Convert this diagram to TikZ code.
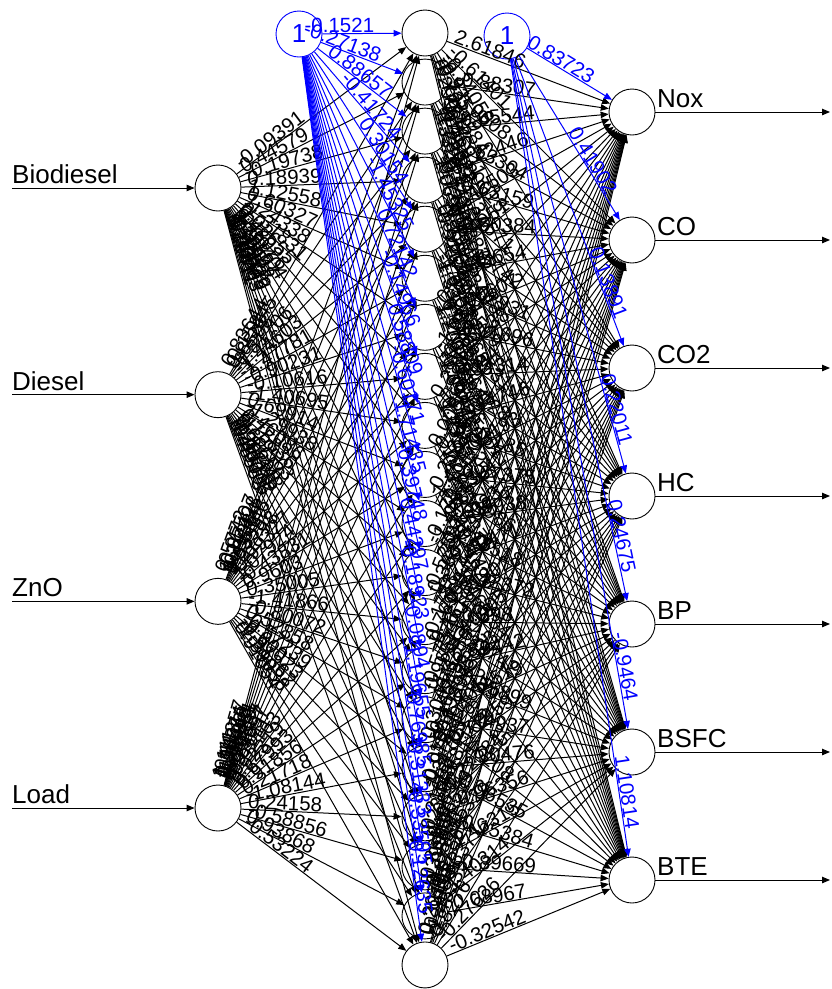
\documentclass[tikz,border=0pt]{standalone}
\usepackage{fontspec}
\setmainfont{Liberation Sans}
\usetikzlibrary{arrows.meta}

\newcommand\setweight[2]{\expandafter\def\csname wt@#1\endcsname{#2}}
\newcommand\pickweight[1]{%
  \ifcsname wt@#1\endcsname
    \edef\wt{\csname wt@#1\endcsname}%
  \else
    \pgfmathsetmacro\wraw{1.5*rand}%
    \edef\wt{\fpeval{round(\wraw,5)}}%
  \fi}
% weights readable in the plot
\setweight{in-1-1}{-0.09391}
\setweight{in-1-2}{0.44579}
\setweight{in-1-3}{-0.19738}
\setweight{in-1-4}{0.18939}
\setweight{in-1-5}{1.12558}
\setweight{in-1-6}{0.60327}
\setweight{in-4-15}{0.21718}
\setweight{in-4-16}{-1.08144}
\setweight{in-4-17}{0.24158}
\setweight{in-4-18}{-0.58856}
\setweight{in-4-19}{0.93868}
\setweight{in-4-20}{-0.53224}
\setweight{hd-1-1}{2.61846}
\setweight{hd-17-7}{-0.15384}
\setweight{hd-18-7}{-0.89669}
\setweight{hd-19-7}{0.08967}
\setweight{hd-20-7}{-0.32542}

\tikzset{
  neuron/.style={circle, draw, fill=white, minimum size=46pt, inner sep=0pt, line width=0.9pt},
  biasnode/.style={neuron, draw=blue, text=blue, font=\fontsize{26}{30}\selectfont},
  nlabel/.style={inner sep=0pt, anchor=south west, font=\fontsize{26}{30}\selectfont},
  wlabel/.style={sloped, inner sep=0.6pt, font=\fontsize{20.5}{22}\selectfont},
  synapse/.style={->, line width=1pt},
  biassyn/.style={->, line width=1pt, blue},
}

\begin{document}
\begin{tikzpicture}[x=1pt, y=-1pt, >={Triangle[length=8pt, width=6.5pt]}]
  \useasboundingbox[fill=white] (0,0) rectangle (831,989);
  \pgfmathsetseed{4711}
  % input layer
  \foreach \lbl [count=\i] in {Biodiesel,Diesel,ZnO,Load} {
    \pgfmathsetmacro\yy{188+206.67*(\i-1)}
    \node[neuron] (in\i) at (218,\yy) {};
    \coordinate (src\i) at (12,\yy);
    \node[nlabel] (tin\i) at (12,\yy-4) {\lbl};
    \draw[synapse] (src\i) -- (in\i);
  }
  % hidden layer
  \foreach \j in {1,...,20} {
    \pgfmathsetmacro\yy{33+49.05*(\j-1)}
    \node[neuron] (h\j) at (425,\yy) {};
  }
  % output layer
  \foreach \lbl [count=\k] in {Nox,CO,CO2,HC,BP,BSFC,BTE} {
    \pgfmathsetmacro\yy{112+128*(\k-1)}
    \node[neuron] (o\k) at (632,\yy) {};
    \coordinate (dst\k) at (830,\yy);
    \node[nlabel] (tout\k) at (657,\yy-4) {\lbl};
    \draw[synapse] (o\k) -- (dst\k);
  }
  % bias nodes
  \node[biasnode] (b1) at (299,34) {1};
  \node[biasnode] (b2) at (507,36) {1};

  % input -> hidden
  \foreach \i in {1,...,4} {
    \foreach \j in {1,...,20} {
      \pgfmathsetmacro\f{29/veclen(207,(33+49.05*(\j-1))-(188+206.67*(\i-1)))}
      \pickweight{in-\i-\j}
      \draw[synapse] (in\i) -- (h\j);
      \path (in\i.center) -- (h\j.center) node[wlabel, pos=\f, anchor=south west] (w\i h\j) {\wt};
    }
  }
  % hidden -> output
  \foreach \j in {1,...,20} {
    \foreach \k in {1,...,7} {
      \pgfmathsetmacro\f{29/veclen(207,(112+128*(\k-1))-(33+49.05*(\j-1)))}
      \pickweight{hd-\j-\k}
      \draw[synapse] (h\j) -- (o\k);
      \path (h\j.center) -- (o\k.center) node[wlabel, pos=\f, anchor=south west] (v\j o\k) {\wt};
    }
  }
  % intercepts
  \foreach \j/\wt in {1/-0.1521, 2/-0.27138, 3/0.88657, 4/-0.41724, 5/0.30154,
      6/-1.45325, 7/0.72142, 8/-0.14966, 9/0.58809, 10/-0.60171, 11/1.71435,
      12/-0.39748, 13/0.44297, 14/-0.18923, 15/0.0894, 16/-1.19655,
      17/0.76985, 18/-0.31233, 19/0.33595, 20/-0.12635} {
    \pgfmathsetmacro\f{1-50/veclen(126,(33+49.05*(\j-1))-34)}
    \draw[biassyn] (b1) -- (h\j);
    \path (b1.center) -- (h\j.center) node[wlabel, text=blue, pos=\f, anchor=south east] (bw\j) {\wt};
  }
  \foreach \k/\wt in {1/0.83723, 2/0.41902, 3/0.13891, 4/0.22011, 5/0.24675,
      6/-0.9464, 7/1.10814} {
    \pgfmathsetmacro\f{1-50/veclen(125,(112+128*(\k-1))-36)}
    \draw[biassyn] (b2) -- (o\k);
    \path (b2.center) -- (o\k.center) node[wlabel, text=blue, pos=\f, anchor=south east] (cw\k) {\wt};
  }
\end{tikzpicture}
\end{document}
